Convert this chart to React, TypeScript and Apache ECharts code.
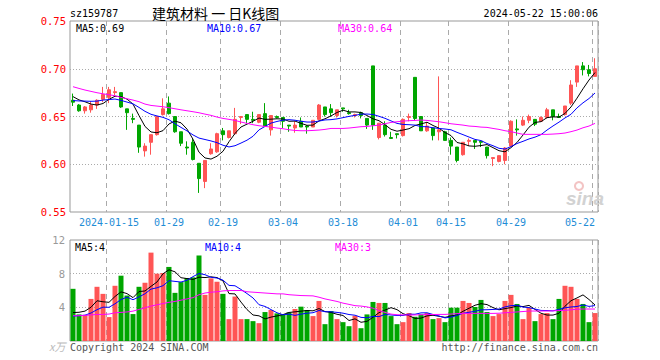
import React, { useEffect, useRef } from "react";
import * as echarts from "echarts";

const year = "2024";
const dates = [
  "01-05","01-08","01-09","01-10","01-11","01-12","01-15","01-16","01-17","01-18","01-19","01-22","01-23","01-24","01-25","01-26",
  "01-29","01-30","01-31","02-01","02-02","02-05","02-06","02-07","02-08",
  "02-19","02-20","02-21","02-22","02-23","02-26","02-27","02-28","02-29","03-01",
  "03-04","03-05","03-06","03-07","03-08","03-11","03-12","03-13","03-14","03-15",
  "03-18","03-19","03-20","03-21","03-22","03-25","03-26","03-27","03-28","03-29",
  "04-01","04-02","04-03","04-08","04-09","04-10","04-11","04-12",
  "04-15","04-16","04-17","04-18","04-19","04-22","04-23","04-24","04-25","04-26",
  "04-29","04-30","05-06","05-07","05-08","05-09","05-10","05-13","05-14","05-15","05-16","05-17",
  "05-20","05-21","05-22",
];
const tickDates = ["01-15","01-29","02-19","03-04","03-18","04-01","04-15","04-29","05-22"];

const opens = [
  0.667,0.662,0.656,0.657,0.662,0.668,0.670,0.675,0.675,0.658,
  0.648,0.641,0.614,0.623,0.631,0.652,0.664,0.650,0.634,0.618,
  0.623,0.601,0.582,0.611,0.613,0.635,0.628,0.632,0.649,0.652,
  0.647,0.644,0.653,0.636,0.650,0.649,0.641,0.638,0.645,0.640,
  0.639,0.647,0.660,0.658,0.651,0.659,0.654,0.651,0.654,0.648,
  0.703,0.628,0.641,0.628,0.632,0.630,0.649,0.691,0.650,0.635,
  0.638,0.634,0.634,0.625,0.618,0.610,0.624,0.625,0.624,0.618,
  0.606,0.603,0.604,0.619,0.637,0.641,0.646,0.647,0.645,0.649,
  0.657,0.650,0.652,0.664,0.686,0.703,0.699,0.692,
];
const closes = [
  0.665,0.656,0.660,0.662,0.667,0.673,0.678,0.676,0.660,0.654,
  0.647,0.618,0.619,0.631,0.650,0.658,0.653,0.634,0.622,0.617,
  0.605,0.585,0.604,0.616,0.632,0.631,0.635,0.647,0.650,0.647,
  0.646,0.652,0.640,0.651,0.649,0.645,0.640,0.641,0.639,0.639,
  0.646,0.662,0.652,0.654,0.657,0.658,0.653,0.652,0.651,0.641,
  0.641,0.643,0.631,0.627,0.631,0.647,0.650,0.648,0.635,0.640,
  0.630,0.636,0.625,0.619,0.604,0.623,0.625,0.623,0.623,0.609,
  0.607,0.609,0.617,0.645,0.636,0.646,0.650,0.642,0.649,0.657,
  0.650,0.649,0.661,0.683,0.703,0.699,0.695,0.700,
];
const lows = [
  0.661,0.655,0.653,0.654,0.658,0.665,0.664,0.672,0.659,0.636,
  0.643,0.612,0.608,0.610,0.630,0.651,0.652,0.633,0.619,0.610,
  0.604,0.570,0.575,0.610,0.612,0.625,0.627,0.631,0.642,0.643,
  0.643,0.643,0.640,0.630,0.648,0.638,0.634,0.633,0.639,0.632,
  0.639,0.646,0.650,0.650,0.649,0.655,0.652,0.649,0.648,0.637,
  0.636,0.626,0.629,0.627,0.627,0.629,0.645,0.646,0.635,0.634,
  0.625,0.625,0.625,0.610,0.602,0.609,0.619,0.616,0.618,0.606,
  0.598,0.602,0.600,0.619,0.630,0.640,0.643,0.640,0.645,0.648,
  0.646,0.649,0.651,0.662,0.681,0.693,0.692,0.692,
];
const highs = [
  0.674,0.663,0.661,0.666,0.668,0.681,0.681,0.681,0.675,0.658,
  0.653,0.641,0.622,0.631,0.650,0.669,0.671,0.650,0.634,0.624,
  0.627,0.601,0.604,0.622,0.633,0.638,0.635,0.659,0.650,0.652,
  0.655,0.652,0.664,0.651,0.651,0.649,0.641,0.645,0.649,0.641,
  0.646,0.663,0.660,0.663,0.657,0.659,0.657,0.653,0.655,0.648,
  0.703,0.643,0.645,0.634,0.632,0.648,0.653,0.691,0.650,0.644,
  0.638,0.692,0.635,0.628,0.618,0.623,0.627,0.625,0.624,0.618,
  0.607,0.609,0.618,0.646,0.647,0.650,0.652,0.647,0.650,0.659,
  0.657,0.653,0.661,0.688,0.703,0.707,0.704,0.711,
];
// closes before the visible window (read from where MA5/MA10 start)
const priorCloses = [0.660,0.662,0.664,0.665,0.662,0.673,0.670,0.674,0.672];
const priceMa30 = [
  0.6812,0.6794,0.6777,0.6763,0.6749,0.6738,0.6728,0.6717,0.6700,0.6686,
  0.6672,0.6655,0.6630,0.6616,0.6609,0.6602,0.6592,0.6581,0.6570,0.6560,
  0.6550,0.6539,0.6525,0.6512,0.6494,0.6480,0.6470,0.6459,0.6442,0.6428,
  0.6414,0.6403,0.6396,0.6389,0.6379,0.6372,0.6361,0.6354,0.6351,0.6351,
  0.6354,0.6358,0.6365,0.6375,0.6375,0.6375,0.6379,0.6386,0.6393,0.6396,
  0.6403,0.6410,0.6424,0.6438,0.6445,0.6452,0.6456,0.6459,0.6463,0.6459,
  0.6452,0.6445,0.6435,0.6424,0.6417,0.6410,0.6400,0.6396,0.6389,0.6386,
  0.6375,0.6365,0.6351,0.6341,0.6327,0.6313,0.6313,0.6313,0.6313,0.6313,
  0.6316,0.6320,0.6327,0.6341,0.6358,0.6382,0.6400,0.6428,
];

const volumes = [
  6.2,3.16,3.1,5.0,6.44,5.6,2.84,6.56,7.76,5.4,
  3.2,6.44,6.92,10.5,8.0,8.08,8.8,5.72,7.0,7.48,
  7.56,10.16,5.48,7.44,7.04,5.6,2.6,5.28,2.6,2.6,
  2.36,2.12,3.44,3.68,3.28,3.16,3.4,3.8,4.08,3.68,
  2.96,4.76,2.0,3.56,2.6,2.24,1.76,3.0,1.52,3.16,
  4.64,4.52,4.52,2.96,2.0,2.24,3.32,2.88,3.16,3.32,
  2.6,2.72,2.24,3.96,3.96,4.76,4.52,4.04,4.88,3.44,
  2.96,3.2,4.76,5.48,4.4,2.6,3.92,2.36,3.2,3.32,
  2.6,5.0,6.56,6.44,5.0,4.4,2.24,3.32,
];
const priorVolumes = [2.5,2.6,2.4,2.5,2.6,3.0,2.4,2.7,2.6];
const volumeMa30 = [
  3.0,3.0,3.05,3.1,3.15,3.16,3.2,3.35,3.4,3.45,
  3.55,3.75,3.95,4.15,4.3,4.45,4.6,4.7,4.85,5.0,
  5.15,5.5,5.7,5.8,5.85,5.95,6.0,6.0,6.0,5.85,
  5.8,5.75,5.7,5.65,5.6,5.6,5.5,5.45,5.4,5.38,
  5.36,5.2,5.0,4.85,4.7,4.5,4.35,4.2,4.15,4.05,
  3.9,3.6,3.4,3.2,3.12,3.1,3.08,3.1,3.12,3.15,
  3.15,3.16,3.16,3.2,3.25,3.28,3.28,3.28,3.28,3.28,
  3.28,3.3,3.35,3.4,3.45,3.5,3.56,3.56,3.56,3.56,
  3.58,3.62,3.64,3.7,3.78,3.8,3.8,3.8,
];

const headerCode = "sz159787";
const headerTitle = "建筑材料 一 日K线图";
const headerTime = "2024-05-22 15:00:06";
const priceMaLabels = ["MA5:0.69", "MA10:0.67", "MA30:0.64"];
const volMaLabels = ["MA5:4", "MA10:4", "MA30:3"];

const RED = "#ff5555";
const GREEN = "#00a600";
const MONO = '"DejaVu Sans Mono", "Liberation Mono", monospace';

function movingAvg(values: number[], prior: number[], n: number): number[] {
  const all = prior.concat(values);
  return values.map((_, i) => {
    const end = prior.length + i;
    let s = 0;
    for (let k = end - n + 1; k <= end; k++) s += all[k];
    return +(s / n).toFixed(4);
  });
}

function txt(x: number, y: number, text: string, fill: string, font: string, align = "left") {
  return {
    type: "text",
    x,
    y,
    silent: true,
    z: 100,
    style: {
      text,
      fill,
      font,
      align,
      textAlign: align,
      verticalAlign: "middle",
      textVerticalAlign: "middle",
    },
  };
}

export default function App() {
  const ref = useRef<HTMLDivElement>(null);
  useEffect(() => {
    if (!ref.current) return;
    const chart = echarts.init(ref.current, undefined, { renderer: "svg" });
    const ma5 = movingAvg(closes, priorCloses, 5);
    const ma10 = movingAvg(closes, priorCloses, 10);
    const vma5 = movingAvg(volumes, priorVolumes, 5);
    const vma10 = movingAvg(volumes, priorVolumes, 10);
    const isTick = (_i: number, v: string) => tickDates.indexOf(v) >= 0;
    const splitLine = { show: true, interval: isTick, lineStyle: { color: "#aaaaaa", type: [5, 4], width: 1 } };
    const dotted = { show: true, showMinLine: false, showMaxLine: false, lineStyle: { color: "#aaaaaa", type: [1, 2], width: 1 } };
    const lineSeries = (name: string, data: number[], color: string, idx: number) => ({
      name,
      type: "line",
      data,
      xAxisIndex: idx,
      yAxisIndex: idx,
      symbol: "none",
      showSymbol: false,
      silent: true,
      z: 5,
      lineStyle: { color, width: 1 },
    });
    const option: any = {
      animation: false,
      backgroundColor: "#ffffff",
      textStyle: { fontFamily: MONO },
      grid: [
        { left: 70, right: 62, top: 21, height: 191, show: true, borderColor: "#999999", borderWidth: 1 },
        { left: 70, right: 62, top: 240, height: 101, show: true, borderColor: "#999999", borderWidth: 1 },
      ],
      xAxis: [
        {
          type: "category",
          gridIndex: 0,
          data: dates,
          boundaryGap: true,
          axisLine: { show: false },
          axisTick: { show: false },
          axisLabel: {
            interval: isTick,
            formatter: (v: string) => (v === "01-15" ? year + "-" + v : v),
            color: "#1f8dd6",
            fontSize: 10,
            fontFamily: MONO,
            margin: 5,
            alignMaxLabel: "right",
          },
          splitLine,
        },
        {
          type: "category",
          gridIndex: 1,
          data: dates,
          boundaryGap: true,
          axisLine: { show: false },
          axisTick: { show: false },
          axisLabel: { show: false },
          splitLine,
        },
      ],
      yAxis: [
        {
          type: "value",
          gridIndex: 0,
          min: 0.55,
          max: 0.75,
          interval: 0.05,
          axisLine: { show: false },
          axisTick: { show: false },
          axisLabel: { color: "#ff0000", fontSize: 10.5, fontFamily: MONO, margin: 4, formatter: (v: number) => v.toFixed(2) },
          splitLine: dotted,
        },
        {
          type: "value",
          gridIndex: 1,
          min: 0,
          max: 12,
          interval: 4,
          axisLine: { show: false },
          axisTick: { show: false },
          axisLabel: { color: "#999999", fontSize: 10.5, fontFamily: MONO, margin: 5, formatter: (v: number) => (v === 0 ? "" : String(v)) },
          splitLine: dotted,
        },
      ],
      series: [
        {
          type: "candlestick",
          xAxisIndex: 0,
          yAxisIndex: 0,
          barWidth: 4,
          silent: true,
          data: opens.map((o, i) => [o, closes[i], lows[i], highs[i]]),
          itemStyle: { color: RED, color0: GREEN, borderColor: RED, borderColor0: GREEN, borderWidth: 1 },
        },
        lineSeries("MA5", ma5, "#000000", 0),
        lineSeries("MA10", ma10, "#0000ff", 0),
        lineSeries("MA30", priceMa30, "#ff00ff", 0),
        {
          type: "bar",
          xAxisIndex: 1,
          yAxisIndex: 1,
          barWidth: 5,
          silent: true,
          data: volumes.map((v, i) => ({ value: v, itemStyle: { color: closes[i] >= opens[i] ? RED : GREEN } })),
        },
        lineSeries("VMA5", vma5, "#000000", 1),
        lineSeries("VMA10", vma10, "#0000ff", 1),
        lineSeries("VMA30", volumeMa30, "#ff00ff", 1),
      ],
      graphic: [
        txt(70, 13, headerCode, "#000000", "10px " + MONO),
        txt(152, 13, headerTitle, "#000000", '14px "Noto Sans CJK SC"'),
        txt(598, 13, headerTime, "#000000", "10px " + MONO, "right"),
        txt(76, 28, priceMaLabels[0], "#000000", "10px " + MONO),
        txt(207, 28, priceMaLabels[1], "#0000ff", "10px " + MONO),
        txt(338, 28, priceMaLabels[2], "#ff00ff", "10px " + MONO),
        txt(75, 247, volMaLabels[0], "#000000", "10px " + MONO),
        txt(205, 247, volMaLabels[1], "#0000ff", "10px " + MONO),
        txt(335, 247, volMaLabels[2], "#ff00ff", "10px " + MONO),
        txt(49, 346, "x万", "#bbbbbb", 'italic 11px "Noto Sans CJK SC"'),
        txt(70, 347, "Copyright 2024 SINA.COM", "#555555", "10px " + MONO),
        txt(598, 347, "http://finance.sina.com.cn", "#555555", "10px " + MONO, "right"),
        { type: "ring", x: 579, y: 186, silent: true, z: 1, shape: { r: 5, r0: 3 }, style: { fill: "#f3c4c4" } },
        txt(566, 198, "sina", "#d2d2d2", 'italic bold 19px "Liberation Sans"'),
      ],
    };
    chart.setOption(option);
    return () => chart.dispose();
  }, []);
  return <div ref={ref} style={{ position: "absolute", left: 0, top: 0, width: 660, height: 360 }} />;
}
